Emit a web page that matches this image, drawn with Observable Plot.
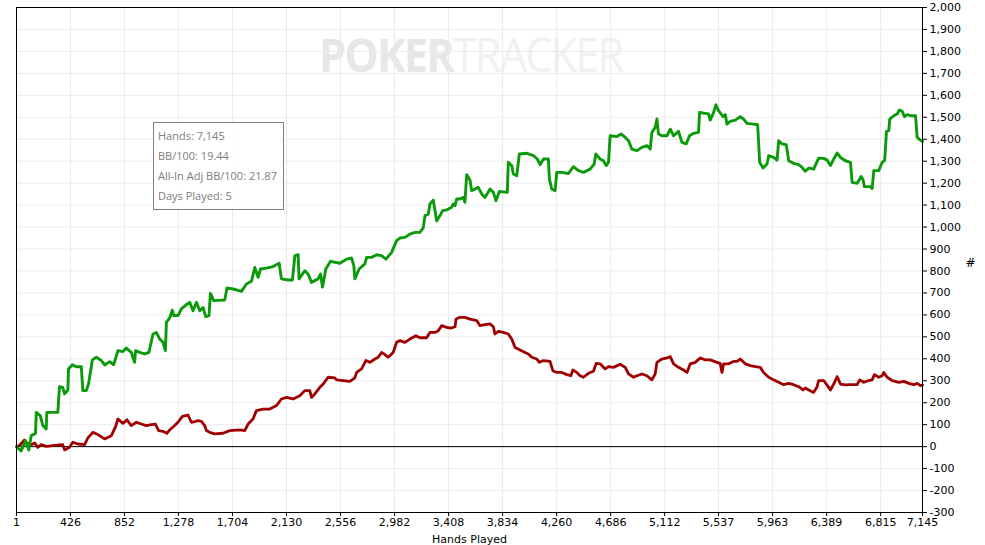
<!DOCTYPE html>
<html>
<head>
<meta charset="utf-8">
<script src="https://cdn.jsdelivr.net/npm/d3@7"></script>
<script src="https://cdn.jsdelivr.net/npm/@observablehq/plot@0.6"></script>
<style>
  html, body { margin: 0; padding: 0; background: #fff; }
  #wrap { position: relative; width: 985px; height: 545px; overflow: hidden; }
  #watermark { position: absolute; left: 319px; top: 31px; font-family: "Open Sans", sans-serif; font-size: 47px; letter-spacing: -2px; line-height: 1; white-space: nowrap; pointer-events: none; transform: scaleX(0.92); transform-origin: 0 0; }
  #watermark .a { font-weight: 700; color: #e7e7e7; }
  #watermark .b { font-weight: 400; color: #f1f1f1; }
  #tip { position: absolute; left: 153px; top: 122px; width: 131px; height: 88px; border: 1px solid #808080; background: rgba(255,255,255,0.9); font-family: "Open Sans", sans-serif; font-size: 11px; color: #7d7d7d; box-sizing: border-box; padding: 3px 0 0 4px; }
  #tip div { height: 20px; line-height: 20px; }
</style>
</head>
<body>
<div id="wrap"></div>
<script>
// Hands played (x) and cumulative won (y)
const allInAdjWon = [
  [1,0],[38,-20],[72,27],[98,-15],[117,50],[151,60],[157,156],[188,141],[209,96],[235,80],[240,156],[327,156],
  [340,273],[366,270],[380,240],[406,258],[411,354],[441,373],[472,364],[512,364],[524,255],[551,255],[569,285],
  [599,395],[630,407],[670,392],[696,372],[735,387],[767,373],[801,437],[840,433],[867,449],[906,429],[932,384],
  [940,437],[972,429],[1011,422],[1045,429],[1077,513],[1104,520],[1130,490],[1156,475],[1175,437],[1183,566],
  [1209,586],[1230,622],[1240,597],[1274,597],[1301,627],[1341,647],[1367,657],[1393,619],[1420,657],[1446,619],
  [1472,634],[1493,592],[1519,597],[1530,698],[1556,665],[1643,668],[1661,723],[1709,718],[1775,707],[1814,741],
  [1854,753],[1880,816],[1906,771],[1925,809],[1972,813],[2024,820],[2072,835],[2090,764],[2143,759],[2177,759],
  [2196,870],[2222,874],[2229,764],[2274,801],[2300,786],[2327,748],[2379,764],[2398,786],[2414,727],[2440,809],
  [2477,844],[2551,835],[2604,854],[2643,859],[2661,824],[2669,764],[2703,809],[2748,832],[2762,862],[2801,862],
  [2841,874],[2880,870],[2914,854],[2959,885],[2998,938],[3024,950],[3064,953],[3103,968],[3143,976],[3182,976],
  [3208,996],[3222,1052],[3248,1059],[3261,1105],[3287,1123],[3301,1075],[3314,1029],[3340,1052],[3362,1075],
  [3393,1078],[3432,1090],[3445,1105],[3459,1098],[3472,1128],[3498,1128],[3524,1135],[3537,1113],[3551,1239],
  [3577,1214],[3590,1166],[3616,1173],[3642,1181],[3669,1151],[3695,1135],[3735,1173],[3761,1158],[3782,1120],
  [3808,1162],[3871,1158],[3879,1295],[3906,1280],[3919,1242],[3946,1234],[3966,1333],[4025,1336],[4077,1325],
  [4108,1310],[4130,1284],[4156,1310],[4195,1310],[4203,1219],[4222,1173],[4248,1166],[4261,1249],[4301,1249],
  [4353,1244],[4392,1275],[4432,1257],[4471,1249],[4524,1264],[4556,1287],[4569,1333],[4603,1310],[4629,1302],
  [4651,1280],[4669,1295],[4682,1416],[4735,1412],[4767,1424],[4801,1408],[4827,1393],[4853,1355],[4893,1348],
  [4932,1363],[4972,1371],[4998,1355],[5011,1431],[5037,1454],[5051,1492],[5063,1424],[5090,1416],[5130,1416],
  [5156,1446],[5182,1416],[5221,1436],[5248,1386],[5282,1379],[5308,1416],[5340,1427],[5379,1431],[5387,1522],
  [5432,1518],[5458,1515],[5471,1487],[5498,1522],[5516,1557],[5537,1530],[5556,1515],[5572,1503],[5590,1512],
  [5603,1469],[5629,1481],[5669,1487],[5708,1503],[5734,1492],[5761,1472],[5813,1469],[5845,1466],[5861,1295],
  [5888,1269],[5919,1287],[5932,1325],[5971,1317],[5998,1305],[6011,1393],[6037,1379],[6071,1375],[6090,1302],
  [6129,1290],[6169,1284],[6195,1272],[6221,1254],[6248,1269],[6287,1264],[6326,1314],[6366,1313],[6393,1305],
  [6419,1280],[6445,1310],[6472,1337],[6498,1317],[6537,1302],[6577,1295],[6590,1204],[6630,1199],[6642,1211],
  [6661,1230],[6677,1214],[6687,1184],[6735,1184],[6748,1176],[6761,1257],[6800,1257],[6827,1295],[6847,1305],
  [6861,1436],[6879,1439],[6887,1492],[6918,1507],[6945,1515],[6963,1533],[6985,1527],[7003,1503],[7024,1512],
  [7050,1507],[7090,1507],[7103,1408],[7135,1393],[7145,1390]
];
const netWon = [
  [1,0],[25,5],[64,30],[90,12],[117,9],[143,17],[169,-3],[196,9],[235,1],[288,5],[340,8],[366,9],[380,-15],
  [419,-3],[445,20],[485,12],[538,9],[564,40],[603,65],[643,55],[696,35],[749,50],[782,91],[801,126],[840,106],
  [872,122],[906,96],[946,111],[985,103],[1025,96],[1064,100],[1096,103],[1122,73],[1156,70],[1187,61],[1209,76],
  [1248,96],[1274,111],[1309,138],[1353,144],[1380,111],[1406,114],[1432,118],[1459,115],[1485,96],[1498,73],
  [1524,65],[1564,58],[1629,61],[1682,73],[1761,76],[1801,73],[1827,103],[1866,126],[1893,164],[1945,171],
  [1998,171],[2051,187],[2090,217],[2130,224],[2182,217],[2235,232],[2274,255],[2314,255],[2327,224],[2353,240],
  [2393,270],[2419,285],[2458,316],[2511,313],[2525,304],[2577,301],[2630,297],[2669,313],[2683,338],[2722,354],
  [2756,392],[2788,384],[2827,399],[2853,407],[2880,429],[2906,419],[2932,407],[2971,429],[2998,475],[3024,483],
  [3064,475],[3103,490],[3151,505],[3182,496],[3235,496],[3261,520],[3301,520],[3327,528],[3354,551],[3393,543],
  [3425,540],[3459,546],[3467,581],[3498,589],[3537,589],[3577,581],[3630,574],[3656,551],[3695,556],[3735,559],
  [3761,546],[3774,513],[3800,525],[3840,520],[3879,513],[3906,490],[3932,452],[3972,440],[4011,429],[4037,422],
  [4064,407],[4104,399],[4124,384],[4156,392],[4208,388],[4230,346],[4261,338],[4301,338],[4340,328],[4372,323],
  [4388,349],[4419,338],[4445,323],[4471,316],[4511,334],[4550,343],[4572,379],[4603,377],[4643,354],[4669,364],
  [4708,361],[4761,375],[4801,361],[4827,331],[4866,316],[4893,323],[4932,331],[4972,323],[5011,304],[5037,331],
  [5051,384],[5090,399],[5130,404],[5156,410],[5182,377],[5221,361],[5261,349],[5288,338],[5314,377],[5353,384],
  [5393,404],[5432,395],[5471,395],[5524,384],[5550,379],[5564,338],[5577,377],[5616,377],[5655,388],[5682,388],
  [5708,399],[5748,377],[5787,369],[5827,364],[5866,361],[5892,338],[5932,316],[5971,304],[6011,293],[6050,282],
  [6090,288],[6129,282],[6169,273],[6203,258],[6221,267],[6248,258],[6287,247],[6314,273],[6326,301],[6366,301],
  [6405,270],[6419,258],[6445,285],[6472,319],[6498,285],[6537,281],[6577,282],[6630,282],[6650,304],[6682,293],
  [6721,301],[6748,304],[6766,328],[6800,316],[6827,323],[6840,338],[6866,316],[6906,301],[6958,293],[6997,297],
  [7037,288],[7076,282],[7103,288],[7129,278],[7145,280]
];
const xTicks = [1,426,852,1278,1704,2130,2556,2982,3408,3834,4260,4686,5112,5537,5963,6389,6815,7145];
const yTicks = [-300,-200,-100,0,100,200,300,400,500,600,700,800,900,1000,1100,1200,1300,1400,1500,1600,1700,1800,1900,2000];
const tipLines = ["Hands: 7,145","BB/100: 19.44","All-In Adj BB/100: 21.87","Days Played: 5"];
const seriesColors = {netWon: "#a00000", allInAdjWon: "#0a9a0a"};

const fmt = d => d.toLocaleString("en-US");

const chart = Plot.plot({
  width: 985,
  height: 545,
  marginLeft: 16,
  marginRight: 63,
  marginTop: 7,
  marginBottom: 33,
  style: {fontFamily: "DejaVu Sans", fontSize: "11px", color: "#000", background: "transparent"},
  x: {domain: [1, 7145]},
  y: {domain: [-300, 2000]},
  marks: [
    Plot.gridX(xTicks, {stroke: "#ebebeb", strokeOpacity: 1, strokeWidth: 1}),
    Plot.gridY(yTicks, {stroke: "#ebebeb", strokeOpacity: 1, strokeWidth: 1}),
    Plot.ruleY([0], {stroke: "#000", strokeWidth: 1}),
    Plot.line(netWon, {x: d => d[0], y: d => d[1], stroke: seriesColors.netWon, strokeWidth: 2.8, strokeLinejoin: "round"}),
    Plot.line(allInAdjWon, {x: d => d[0], y: d => d[1], stroke: seriesColors.allInAdjWon, strokeWidth: 2.9, strokeLinejoin: "round"}),
    Plot.axisY(yTicks, {anchor: "right", tickSize: 4, tickPadding: 3, tickFormat: fmt, label: null, stroke: "#000", fill: "#000"}),
    Plot.axisX(xTicks, {anchor: "bottom", tickSize: 4, tickPadding: 2, tickFormat: fmt, label: null, stroke: "#000", fill: "#000"}),
    Plot.frame({stroke: "#000", strokeWidth: 1}),
    Plot.text(["Hands Played"], {frameAnchor: "bottom", dy: 30, text: d => d, fill: "#000"}),
    Plot.text(["#"], {frameAnchor: "right", dx: 53, dy: 3, text: d => d, fill: "#000", fontSize: 12})
  ]
});

const wrap = document.getElementById("wrap");
const wm = document.createElement("div");
wm.id = "watermark";
wm.innerHTML = '<span class="a">POKER</span><span class="b">TRACKER</span>';
wrap.appendChild(wm);
wrap.appendChild(chart);
chart.style.position = "absolute";
chart.style.left = "0";
chart.style.top = "0";

const tip = document.createElement("div");
tip.id = "tip";
for (const t of tipLines) {
  const l = document.createElement("div");
  l.textContent = t;
  tip.appendChild(l);
}
wrap.appendChild(tip);
</script>
</body>
</html>
